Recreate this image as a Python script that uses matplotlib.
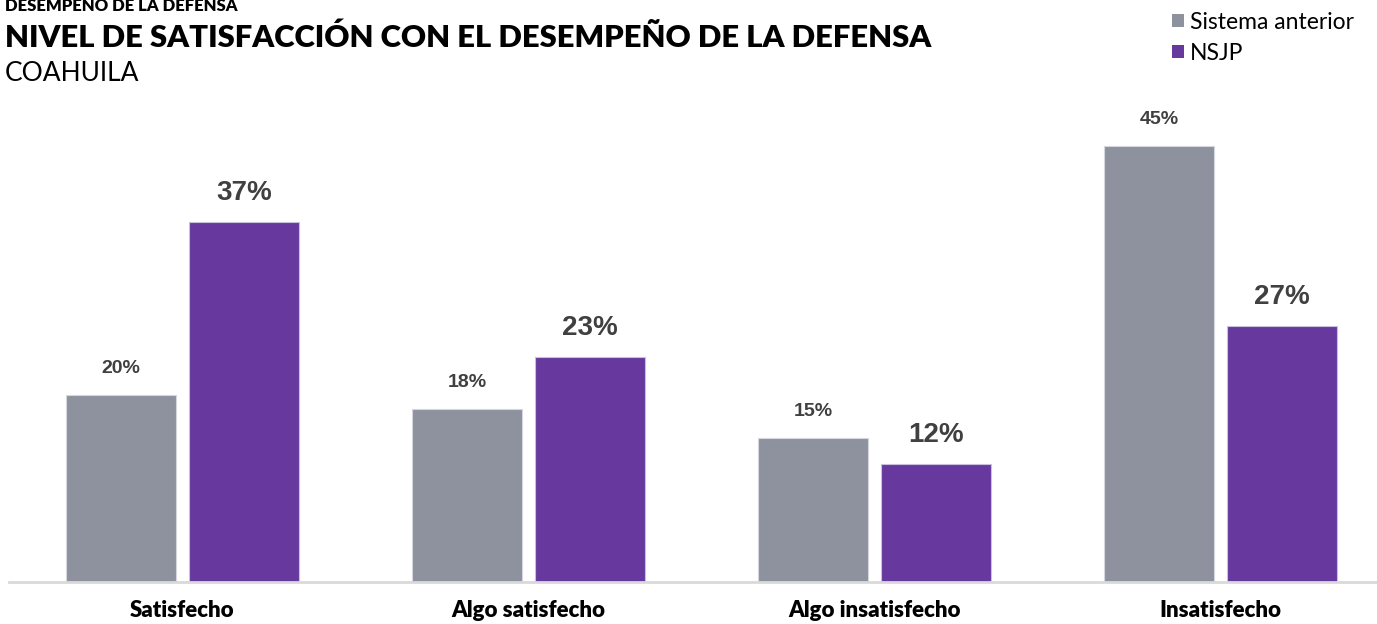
import numpy as np
import matplotlib
matplotlib.use("Agg")
import matplotlib.pyplot as plt
from matplotlib.patches import Patch

# values (bar heights) and the printed labels
categories = ["Satisfecho", "Algo satisfecho", "Algo insatisfecho", "Insatisfecho"]
sistema_anterior = [19.3, 17.9, 14.9, 45.0]
nsjp = [37.2, 23.2, 12.2, 26.4]
sistema_labels = ["20%", "18%", "15%", "45%"]
nsjp_labels = ["37%", "23%", "12%", "27%"]
series_names = ["Sistema anterior", "NSJP"]

GRAY = "#8e929e"
PURPLE = "#67389d"
LABEL_COLOR = "#404040"

W, H, DPI = 1377, 624, 100
fig = plt.figure(figsize=(W / DPI, H / DPI), dpi=DPI)

# axes placed in pixel terms
left_px, bottom_px, top_px = 9, 582, 100
ax = fig.add_axes([left_px / W, (H - bottom_px) / H, 1 - left_px / W, (bottom_px - top_px) / H])

x = np.arange(len(categories))
width = 0.32
offset = 0.178
ax.bar(x - offset, sistema_anterior, width, color=GRAY, edgecolor="#d6d6de", linewidth=0.8)
ax.bar(x + offset, nsjp, width, color=PURPLE, edgecolor="#c9bfe0", linewidth=0.8)

for xi, v, lab in zip(x, sistema_anterior, sistema_labels):
    ax.annotate(lab, (xi - offset, v), xytext=(0, 15.8), textcoords="offset points",
                ha="center", va="baseline", fontsize=14, fontweight="bold",
                color=LABEL_COLOR, family="Liberation Sans")
for xi, v, lab in zip(x, nsjp, nsjp_labels):
    ax.annotate(lab, (xi + offset, v), xytext=(0, 16), textcoords="offset points",
                ha="center", va="baseline", fontsize=20, fontweight="bold",
                color=LABEL_COLOR, family="Liberation Sans")

# pixel scale: 346 px per category slot, centre of first slot at 182.5 px
ax.set_xlim((left_px - 182.5) / 346, (W - 182.5) / 346)
ax.set_ylim(0, (bottom_px - top_px) / 9.68)

for s in ["top", "right", "left"]:
    ax.spines[s].set_visible(False)
ax.spines["bottom"].set_color("#d9d9d9")
ax.spines["bottom"].set_linewidth(2)
ax.set_yticks([])
ax.set_xticks(x)
ax.set_xticklabels(categories, fontsize=16, fontweight="heavy", family="Lato")
ax.tick_params(axis="x", length=0, pad=13)

# titles
fig.text(5 / W, 1 - 11 / H, "DESEMPEÑO DE LA DEFENSA", fontsize=12, fontweight="heavy",
         family="Lato", va="baseline")
fig.text(5 / W, 1 - 47 / H, "NIVEL DE SATISFACCIÓN CON EL DESEMPEÑO DE LA DEFENSA",
         fontsize=22.3, fontweight="heavy", family="Lato", va="baseline")
fig.text(5 / W, 1 - 81 / H, "COAHUILA", fontsize=19, family="Lato", va="baseline")

handles = [Patch(facecolor=GRAY), Patch(facecolor=PURPLE)]
fig.legend(handles, series_names, loc="upper right", bbox_to_anchor=(1 - 2 / W, 1 + 9 / H),
           frameon=False, prop={"family": "Lato", "size": 16.5}, handlelength=0.5,
           handleheight=0.5, handletextpad=0.3, labelspacing=0.45)

fig.savefig("out.png", dpi=DPI)
